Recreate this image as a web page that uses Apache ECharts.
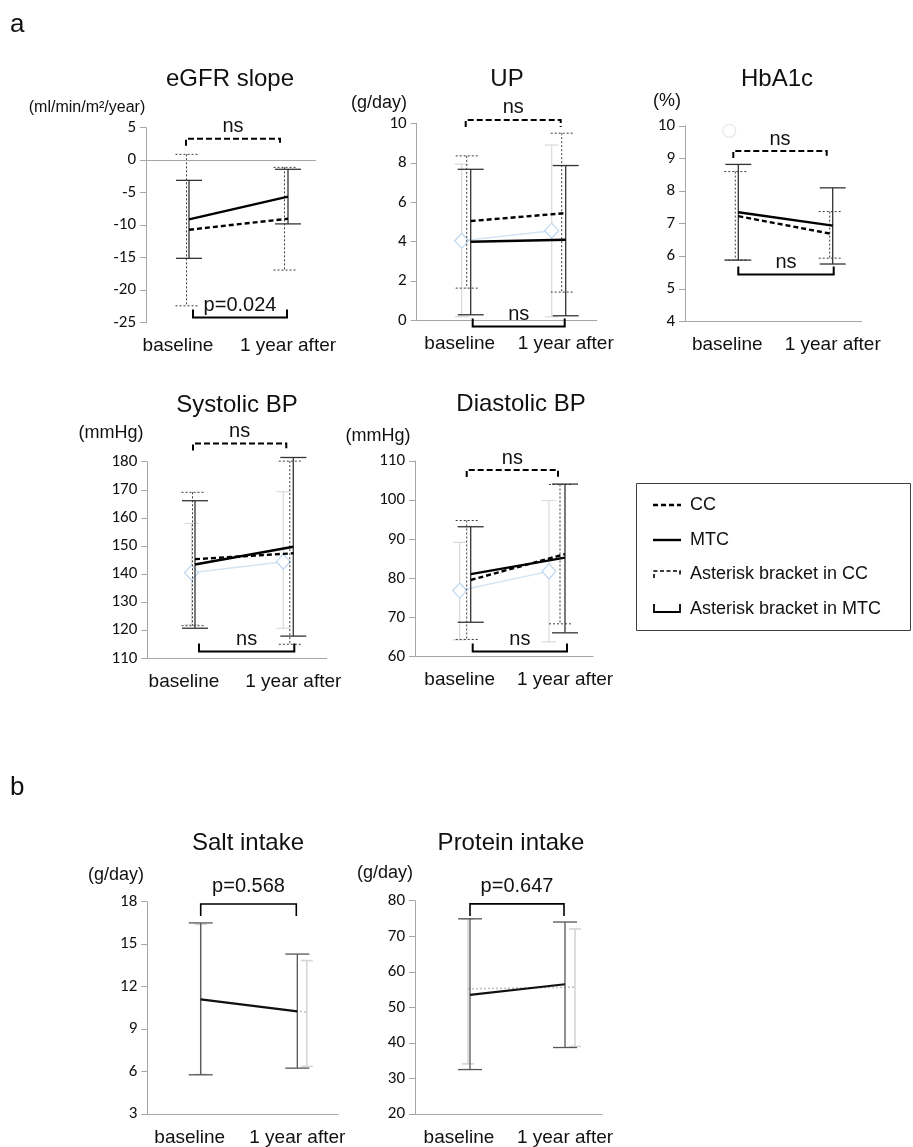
<!DOCTYPE html>
<html><head><meta charset="utf-8">
<script src="https://cdn.jsdelivr.net/npm/echarts@6/dist/echarts.min.js"></script>
<style>html,body{margin:0;padding:0;background:#fff}#c{width:913px;height:1147px}</style>
</head><body><div id="c"></div>
<script>
const timepoints = ['baseline', '1 year after'];

// a: eGFR slope
const egfrTicks = [-25, -20, -15, -10, -5, 0, 5];
const egfrCCMean = [-10.7, -9.0];
const egfrCCLow = [-22.4, -16.9];
const egfrCCHigh = [0.9, -1.1];
const egfrMTCMean = [-9.1, -5.6];
const egfrMTCLow = [-15.1, -9.8];
const egfrMTCHigh = [-3.1, -1.4];
const egfrBrackets = [3.3, -24.2];
const egfrBracketLabels = ['ns', 'p=0.024'];

// a: UP
const upTicks = [0, 2, 4, 6, 8, 10];
const upCCMean = [5.05, 5.45];
const upCCLow = [1.65, 1.45];
const upCCHigh = [8.35, 9.5];
const upMTCMean = [4.0, 4.1];
const upMTCLow = [0.3, 0.25];
const upMTCHigh = [7.67, 7.86];
const upRefMean = [4.05, 4.56];
const upRefLow = [0.2, 0.2];
const upRefHigh = [7.93, 8.9];
const upBrackets = [10.17, -0.3];
const upBracketLabels = ['ns', 'ns'];

// a: HbA1c
const hbTicks = [4, 5, 6, 7, 8, 9, 10];
const hbCCMean = [7.23, 6.68];
const hbCCLow = [5.88, 5.94];
const hbCCHigh = [8.6, 7.37];
const hbMTCMean = [7.35, 6.94];
const hbMTCLow = [5.88, 5.76];
const hbMTCHigh = [8.82, 8.1];
const hbRefOutlier = [9.85];
const hbBrackets = [9.23, 5.44];
const hbBracketLabels = ['ns', 'ns'];

// a: Systolic BP
const sbpTicks = [110, 120, 130, 140, 150, 160, 170, 180];
const sbpCCMean = [145.3, 147.4];
const sbpCCLow = [121.6, 115.0];
const sbpCCHigh = [169.1, 180.2];
const sbpMTCMean = [143.4, 149.7];
const sbpMTCLow = [120.7, 117.9];
const sbpMTCHigh = [166.1, 181.5];
const sbpRefMean = [140.5, 144.4];
const sbpRefLow = [122.0, 120.7];
const sbpRefHigh = [158.0, 169.3];
const sbpBrackets = [186.5, 112.4];
const sbpBracketLabels = ['ns', 'ns'];

// a: Diastolic BP
const dbpTicks = [60, 70, 80, 90, 100, 110];
const dbpCCMean = [79.6, 86.2];
const dbpCCLow = [64.4, 68.4];
const dbpCCHigh = [94.8, 104.0];
const dbpMTCMean = [81.1, 85.3];
const dbpMTCLow = [68.8, 66.1];
const dbpMTCHigh = [93.2, 104.1];
const dbpRefMean = [76.9, 81.8];
const dbpRefLow = [64.3, 63.8];
const dbpRefHigh = [89.2, 99.9];
const dbpBrackets = [107.7, 61.3];
const dbpBracketLabels = ['ns', 'ns'];

// b: Salt intake
const saltTicks = [3, 6, 9, 12, 15, 18];
const saltMean = [11.1, 10.25];
const saltLow = [5.77, 6.24];
const saltHigh = [16.5, 14.3];
const saltRefMean = [11.1, 10.2];
const saltRefLow = [5.8, 6.36];
const saltRefHigh = [16.4, 13.84];
const saltBrackets = [17.84];
const saltBracketLabels = ['p=0.568'];

// b: Protein intake
const protTicks = [20, 30, 40, 50, 60, 70, 80];
const protMean = [53.5, 56.5];
const protLow = [32.5, 38.7];
const protHigh = [74.9, 74.0];
const protRefMean = [55.2, 55.7];
const protRefLow = [34.1, 39.0];
const protRefHigh = [74.9, 72.05];
const protBrackets = [79.1];
const protBracketLabels = ['p=0.647'];

// ---------- styles ----------
const ERR = {
  cc:  {color: '#3c3c3c', width: 1, dash: [2, 2], cap: 22, z: 3},
  mtc: {color: '#333333', width: 1.3, dash: null, cap: 26, z: 3},
  main:{color: '#555555', width: 1.3, dash: null, cap: 24, z: 3},
  ref: {color: '#dadada', width: 1.2, dash: null, cap: 14, z: 1},
  refb:{color: '#d6d6d6', width: 1.6, dash: null, cap: 12, z: 1}
};
const LINE = {
  cc:  {color: '#000', width: 2.4, type: [5, 3]},
  mtc: {color: '#000', width: 2.4, type: 'solid'},
  main:{color: '#111', width: 2.2, type: 'solid'},
  ref: {color: '#d4e4f4', width: 1.5, dash: null, diamond: true},
  refb:{color: '#c4c4c4', width: 1.6, dash: [2, 2], diamond: false}
};
const BR = {
  cc:  {color: '#000', width: 2, dash: [6, 3], dir: 1, leg: 7, gap: 12},
  mtc: {color: '#000', width: 2, dash: null, dir: -1, leg: 8, gap: 12},
  b:   {color: '#000', width: 1.6, dash: null, dir: 1, leg: 12, gap: 17}
};
const FONT = '"Liberation Sans", Arial, sans-serif';
const TICKFONT = 'Carlito, "Open Sans", "Liberation Sans", sans-serif';

const panels = [
  {box: {l: 146, t: 127.7, r: 316, b: 322.7}, x0: 189, x1: 288, ticks: egfrTicks, zero: true,
   title: ['eGFR slope', 230, 79], unit: ['(ml/min/m²/year)', 87, 108, 16],
   groups: [
     {kind: 'cc', mean: egfrCCMean, low: egfrCCLow, high: egfrCCHigh, off: [-2.5, -3.5]},
     {kind: 'mtc', mean: egfrMTCMean, low: egfrMTCLow, high: egfrMTCHigh, off: [0, 0]}],
   brackets: [
     {kind: 'cc', value: egfrBrackets[0], label: egfrBracketLabels[0], offL: -3, offR: -8},
     {kind: 'mtc', value: egfrBrackets[1], label: egfrBracketLabels[1], offL: 4, offR: -1}]},
  {box: {l: 416.7, t: 123.3, r: 596.7, b: 320.7}, x0: 470.7, x1: 565.7, ticks: upTicks,
   title: ['UP', 507, 79], unit: ['(g/day)', 379, 103, 18],
   groups: [
     {kind: 'ref', mean: upRefMean, low: upRefLow, high: upRefHigh, off: [-9, -14]},
     {kind: 'cc', mean: upCCMean, low: upCCLow, high: upCCHigh, off: [-4, -4]},
     {kind: 'mtc', mean: upMTCMean, low: upMTCLow, high: upMTCHigh, off: [0, 0]}],
   brackets: [
     {kind: 'cc', value: upBrackets[0], label: upBracketLabels[0], offL: -5, offR: -5},
     {kind: 'mtc', value: upBrackets[1], label: upBracketLabels[1], offL: 2, offR: -1}]},
  {box: {l: 685, t: 126, r: 861.7, b: 321.3}, x0: 738.3, x1: 832.7, ticks: hbTicks,
   title: ['HbA1c', 777, 79], unit: ['(%)', 667, 101, 18], outlier: hbRefOutlier,
   groups: [
     {kind: 'cc', mean: hbCCMean, low: hbCCLow, high: hbCCHigh, off: [-3, -3]},
     {kind: 'mtc', mean: hbMTCMean, low: hbMTCLow, high: hbMTCHigh, off: [0, 0]}],
   brackets: [
     {kind: 'cc', value: hbBrackets[0], label: hbBracketLabels[0], offL: -5, offR: -6},
     {kind: 'mtc', value: hbBrackets[1], label: hbBracketLabels[1], offL: 0, offR: 1}]},
  {box: {l: 147.3, t: 461.7, r: 326.7, b: 658.3}, x0: 195, x1: 293.3, ticks: sbpTicks,
   title: ['Systolic BP', 237, 405], unit: ['(mmHg)', 111, 433, 18],
   groups: [
     {kind: 'ref', mean: sbpRefMean, low: sbpRefLow, high: sbpRefHigh, off: [-3.5, -10]},
     {kind: 'cc', mean: sbpCCMean, low: sbpCCLow, high: sbpCCHigh, off: [-2.5, -3.5]},
     {kind: 'mtc', mean: sbpMTCMean, low: sbpMTCLow, high: sbpMTCHigh, off: [0, 0]}],
   brackets: [
     {kind: 'cc', value: sbpBrackets[0], label: sbpBracketLabels[0], offL: -2, offR: -7},
     {kind: 'mtc', value: sbpBrackets[1], label: sbpBracketLabels[1], offL: 4, offR: 1}]},
  {box: {l: 415, t: 461, r: 593, b: 656.7}, x0: 470.7, x1: 565, ticks: dbpTicks,
   title: ['Diastolic BP', 521, 404], unit: ['(mmHg)', 378, 436, 18],
   groups: [
     {kind: 'ref', mean: dbpRefMean, low: dbpRefLow, high: dbpRefHigh, off: [-11, -16]},
     {kind: 'cc', mean: dbpCCMean, low: dbpCCLow, high: dbpCCHigh, off: [-4, -5]},
     {kind: 'mtc', mean: dbpMTCMean, low: dbpMTCLow, high: dbpMTCHigh, off: [0, 0]}],
   brackets: [
     {kind: 'cc', value: dbpBrackets[0], label: dbpBracketLabels[0], offL: -4, offR: -7},
     {kind: 'mtc', value: dbpBrackets[1], label: dbpBracketLabels[1], offL: 2, offR: 2}]},
  {box: {l: 147.3, t: 901.7, r: 338, b: 1114.2}, x0: 200.7, x1: 297.3, ticks: saltTicks,
   title: ['Salt intake', 248, 843], unit: ['(g/day)', 116, 875, 18],
   groups: [
     {kind: 'refb', mean: saltRefMean, low: saltRefLow, high: saltRefHigh, off: [0, 9.5]},
     {kind: 'main', mean: saltMean, low: saltLow, high: saltHigh, off: [0, 0]}],
   brackets: [
     {kind: 'b', value: saltBrackets[0], label: saltBracketLabels[0], offL: 0, offR: -1}]},
  {box: {l: 415, t: 900.7, r: 602, b: 1116.7}, x0: 470, x1: 565, ticks: protTicks,
   title: ['Protein intake', 511, 843], unit: ['(g/day)', 385, 873, 18],
   groups: [
     {kind: 'refb', mean: protRefMean, low: protRefLow, high: protRefHigh, off: [-2, 10]},
     {kind: 'main', mean: protMean, low: protLow, high: protHigh, off: [0, 0]}],
   brackets: [
     {kind: 'b', value: protBrackets[0], label: protBracketLabels[0], offL: 0, offR: -1}]}
];

const grids = [], xAxes = [], yAxes = [], series = [], texts = [];

function ls(st) {
  const s = {stroke: st.color, lineWidth: st.width, fill: null};
  if (st.dash) s.lineDash = st.dash;
  return s;
}

panels.forEach((p, i) => {
  const b = p.box, span = p.x1 - p.x0;
  grids.push({left: b.l, top: b.t, width: b.r - b.l, height: b.b - b.t, containLabel: false});
  xAxes.push({
    type: 'value', gridIndex: i,
    min: -(p.x0 - b.l) / span, max: 1 + (b.r - p.x1) / span,
    axisLine: {show: !p.zero, onZero: false, lineStyle: {color: '#a6a6a6', width: 1}},
    axisTick: {show: false}, splitLine: {show: false},
    axisLabel: {
      customValues: [0, 1], margin: 14,
      formatter: v => (Math.round(v) === 0 ? '{a|' + timepoints[0] + '}' : '{b|' + timepoints[1] + '}'),
      rich: {
        a: {fontSize: 19, fontFamily: FONT, color: '#111', padding: [0, 22, 0, 0]},
        b: {fontSize: 19, fontFamily: FONT, color: '#111'}
      }
    }
  });
  yAxes.push({
    type: 'value', gridIndex: i,
    min: p.ticks[0], max: p.ticks[p.ticks.length - 1], interval: p.ticks[1] - p.ticks[0],
    axisLine: {show: true, onZero: false, lineStyle: {color: '#a6a6a6', width: 1}},
    axisTick: {show: true, length: 6, lineStyle: {color: '#a6a6a6'}},
    splitLine: {show: false},
    axisLabel: {margin: 10, fontSize: 17, fontFamily: TICKFONT, color: '#111'}
  });

  if (p.zero) {
    series.push({type: 'line', xAxisIndex: i, yAxisIndex: i, data: [], z: 0, silent: true,
      markLine: {silent: true, symbol: ['none', 'none'], label: {show: false},
        lineStyle: {color: '#a6a6a6', width: 1, type: 'solid'}, data: [{yAxis: 0}]}});
  }

  p.groups.forEach(g => {
    const est = ERR[g.kind];
    series.push({
      type: 'custom', xAxisIndex: i, yAxisIndex: i, z: est.z, silent: true, clip: false,
      encode: {x: 0, y: [1, 2]},
      data: timepoints.map((t, k) => [k, g.low[k], g.high[k]]),
      renderItem(params, api) {
        const k = params.dataIndex;
        const lo = api.coord([api.value(0), api.value(1)]);
        const hi = api.coord([api.value(0), api.value(2)]);
        const cx = lo[0] + g.off[k], h = est.cap / 2;
        const mk = (x1, y1, x2, y2) => ({type: 'line', shape: {x1, y1, x2, y2}, style: ls(est)});
        return {type: 'group', children: [
          mk(cx, hi[1], cx, lo[1]), mk(cx - h, hi[1], cx + h, hi[1]), mk(cx - h, lo[1], cx + h, lo[1])]};
      }
    });
    const lst = LINE[g.kind];
    if (g.kind === 'ref' || g.kind === 'refb') {
      series.push({
        type: 'custom', xAxisIndex: i, yAxisIndex: i, z: 2, silent: true, clip: false,
        encode: {x: [0, 2], y: [1, 3]},
        data: [[0, g.mean[0], 1, g.mean[1]]],
        renderItem(params, api) {
          const a = api.coord([api.value(0), api.value(1)]);
          const c = api.coord([api.value(2), api.value(3)]);
          const pa = [a[0] + g.off[0], a[1]], pc = [c[0] + g.off[1], c[1]];
          const kids = [{type: 'polyline', shape: {points: [pa, pc]}, style: ls(lst)}];
          if (lst.diamond) {
            [pa, pc].forEach(q => kids.push({type: 'polygon',
              shape: {points: [[q[0], q[1] - 7.5], [q[0] + 7, q[1]], [q[0], q[1] + 7.5], [q[0] - 7, q[1]]]},
              style: {fill: '#fff', stroke: '#b8d3ee', lineWidth: 1.1}}));
          }
          return {type: 'group', children: kids};
        }
      });
    } else {
      series.push({
        type: 'line', xAxisIndex: i, yAxisIndex: i, z: g.kind === 'cc' ? 4 : 5, silent: true,
        symbol: 'none', showSymbol: false, animation: false,
        lineStyle: {color: lst.color, width: lst.width, type: lst.type},
        data: timepoints.map((t, k) => [k, g.mean[k]])
      });
    }
  });

  if (p.outlier) {
    series.push({type: 'scatter', xAxisIndex: i, yAxisIndex: i, z: 1, silent: true,
      symbol: 'circle', symbolSize: 13, symbolOffset: [-9, 0],
      itemStyle: {color: '#fff', borderColor: '#e2e2e2', borderWidth: 1.2},
      data: p.outlier.map(v => [0, v])});
  }

  p.brackets.forEach(br => {
    const st = BR[br.kind];
    series.push({
      type: 'custom', xAxisIndex: i, yAxisIndex: i, z: 6, silent: true, clip: false,
      encode: {x: [0, 1], y: 2},
      data: [[0, 1, br.value]],
      renderItem(params, api) {
        const a = api.coord([api.value(0), api.value(2)]);
        const c = api.coord([api.value(1), api.value(2)]);
        const xl = a[0] + br.offL, xr = c[0] + br.offR, y = a[1], ly = y + st.dir * st.leg;
        return {type: 'group', children: [
          {type: 'polyline', shape: {points: [[xl, ly], [xl, y], [xr, y], [xr, ly]]}, style: ls(st)},
          {type: 'text', x: (xl + xr) / 2, y: y - st.gap,
           style: {text: br.label, fontSize: 20, fontFamily: FONT, fill: '#111', align: 'center', verticalAlign: 'middle'}}
        ]};
      }
    });
  });

  texts.push({type: 'text', x: p.title[1], y: p.title[2],
    style: {text: p.title[0], fontSize: 24, fontFamily: FONT, fill: '#111', align: 'center', verticalAlign: 'middle'}});
  texts.push({type: 'text', x: p.unit[1], y: p.unit[2],
    style: {text: p.unit[0], fontSize: p.unit[3], fontFamily: FONT, fill: '#111', align: 'center', verticalAlign: 'middle'}});
});

texts.push({type: 'text', x: 10, y: 25, style: {text: 'a', fontSize: 26, fontFamily: FONT, fill: '#111', verticalAlign: 'middle'}});
texts.push({type: 'text', x: 10, y: 788, style: {text: 'b', fontSize: 26, fontFamily: FONT, fill: '#111', verticalAlign: 'middle'}});

const legendItems = ['CC', 'MTC', 'Asterisk bracket in CC', 'Asterisk bracket in MTC'];
const legY = [505, 540, 574, 609];
texts.push({type: 'rect', shape: {x: 636.5, y: 483.5, width: 274, height: 147},
  style: {fill: '#fff', stroke: '#404040', lineWidth: 1}});
texts.push({type: 'line', shape: {x1: 653, y1: legY[0], x2: 681, y2: legY[0]}, style: {stroke: '#000', lineWidth: 2.4, lineDash: [5, 3]}});
texts.push({type: 'line', shape: {x1: 653, y1: legY[1], x2: 681, y2: legY[1]}, style: {stroke: '#000', lineWidth: 2.4}});
texts.push({type: 'polyline', shape: {points: [[654, legY[2] + 4], [654, legY[2] - 3], [680, legY[2] - 3], [680, legY[2] + 2]]},
  style: {stroke: '#000', lineWidth: 1.6, lineDash: [4, 2.5], fill: null}});
texts.push({type: 'polyline', shape: {points: [[654, legY[3] - 5], [654, legY[3] + 3], [680, legY[3] + 3], [680, legY[3] - 5]]},
  style: {stroke: '#000', lineWidth: 1.8, fill: null}});
legendItems.forEach((t, k) => texts.push({type: 'text', x: 690, y: legY[k],
  style: {text: t, fontSize: 18, fontFamily: FONT, fill: '#111', verticalAlign: 'middle'}}));

const chart = echarts.init(document.getElementById('c'), null, {renderer: 'canvas'});
chart.setOption({
  animation: false,
  backgroundColor: '#fff',
  grid: grids, xAxis: xAxes, yAxis: yAxes, series: series,
  graphic: {elements: texts}
});
</script></body></html>
